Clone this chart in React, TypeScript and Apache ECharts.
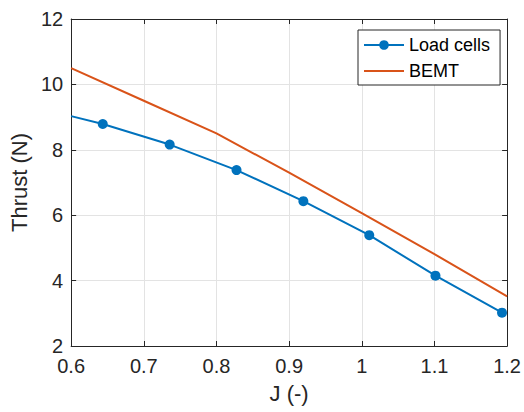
import React, { useEffect, useRef } from "react";
import * as echarts from "echarts";

const loadCellJ = [0.6, 0.6435, 0.7356, 0.8276, 0.9196, 1.0103, 1.1014, 1.193];
const loadCellThrust = [9.03, 8.79, 8.16, 7.38, 6.43, 5.39, 4.15, 3.02];
const bemtJ = [0.6, 0.7, 0.8, 0.9, 1.0, 1.1, 1.2];
const bemtThrust = [10.5, 9.5, 8.5, 7.3, 6.06, 4.81, 3.52];

const FONT = "'Liberation Sans', Arial, Helvetica, sans-serif";
const AXIS = "#262626";
const GRID = "#e3e3e3";

export default function App() {
  const ref = useRef<HTMLDivElement>(null);
  useEffect(() => {
    if (!ref.current) return;
    const chart = echarts.init(ref.current, undefined, { renderer: "svg" });
    const axisCommon = {
      axisLine: { show: true, lineStyle: { color: AXIS, width: 1 } },
      axisTick: { show: true, inside: true, length: 5, lineStyle: { color: AXIS } },
    };
    chart.setOption({
      animation: false,
      textStyle: { fontFamily: FONT },
      grid: { left: 71, right: 16, top: 19, bottom: 66, containLabel: false },
      legend: {
        orient: "vertical",
        left: 358,
        top: 30,
        padding: [5, 10, 4, 5],
        itemWidth: 40,
        itemHeight: 12,
        itemGap: 6,
        borderColor: AXIS,
        borderWidth: 1,
        borderRadius: 0,
        backgroundColor: "#fff",
        textStyle: { fontFamily: FONT, fontSize: 18, color: "#000", lineHeight: 20 },
        data: [
          { name: "Load cells" },
          { name: "BEMT", itemStyle: { opacity: 0 } },
        ],
      },
      xAxis: [
        {
          type: "value",
          position: "bottom",
          min: 0.6,
          max: 1.2,
          interval: 0.1,
          name: "J (-)",
          nameLocation: "middle",
          nameGap: 36,
          nameTextStyle: { fontFamily: FONT, fontSize: 22, color: AXIS },
          axisLabel: { fontFamily: FONT, fontSize: 20, color: AXIS, margin: 10 },
          splitLine: { show: true, lineStyle: { color: GRID, width: 1 } },
          ...axisCommon,
        },
        {
          type: "value",
          position: "top",
          min: 0.6,
          max: 1.2,
          interval: 0.1,
          axisLabel: { show: false },
          splitLine: { show: false },
          ...axisCommon,
        },
      ],
      yAxis: [
        {
          type: "value",
          position: "left",
          min: 2,
          max: 12,
          interval: 2,
          name: "Thrust (N)",
          nameLocation: "middle",
          nameGap: 36,
          nameTextStyle: { fontFamily: FONT, fontSize: 22, color: AXIS },
          axisLabel: { fontFamily: FONT, fontSize: 20, color: AXIS, margin: 8 },
          splitLine: { show: true, lineStyle: { color: GRID, width: 1 } },
          ...axisCommon,
        },
        {
          type: "value",
          position: "right",
          min: 2,
          max: 12,
          interval: 2,
          axisLabel: { show: false },
          splitLine: { show: false },
          ...axisCommon,
        },
      ],
      series: [
        {
          name: "Load cells",
          type: "line",
          xAxisIndex: 0,
          yAxisIndex: 0,
          data: loadCellJ.map((j, i) =>
            i === 0
              ? { value: [j, loadCellThrust[i]], symbol: "none" }
              : { value: [j, loadCellThrust[i]] }
          ),
          symbol: "circle",
          symbolSize: 10,
          showSymbol: true,
          showAllSymbol: true,
          color: "#0072BD",
          lineStyle: { color: "#0072BD", width: 2 },
          itemStyle: { color: "#0072BD" },
          clip: true,
        },
        {
          name: "BEMT",
          type: "line",
          xAxisIndex: 0,
          yAxisIndex: 0,
          data: bemtJ.map((j, i) => [j, bemtThrust[i]]),
          symbol: "none",
          color: "#D95319",
          lineStyle: { color: "#D95319", width: 2 },
          itemStyle: { color: "#D95319" },
          clip: true,
        },
      ],
    });
    return () => chart.dispose();
  }, []);
  return (
    <div
      ref={ref}
      style={{ position: "absolute", left: 0, top: 0, width: 524, height: 412, background: "#fff" }}
    />
  );
}
